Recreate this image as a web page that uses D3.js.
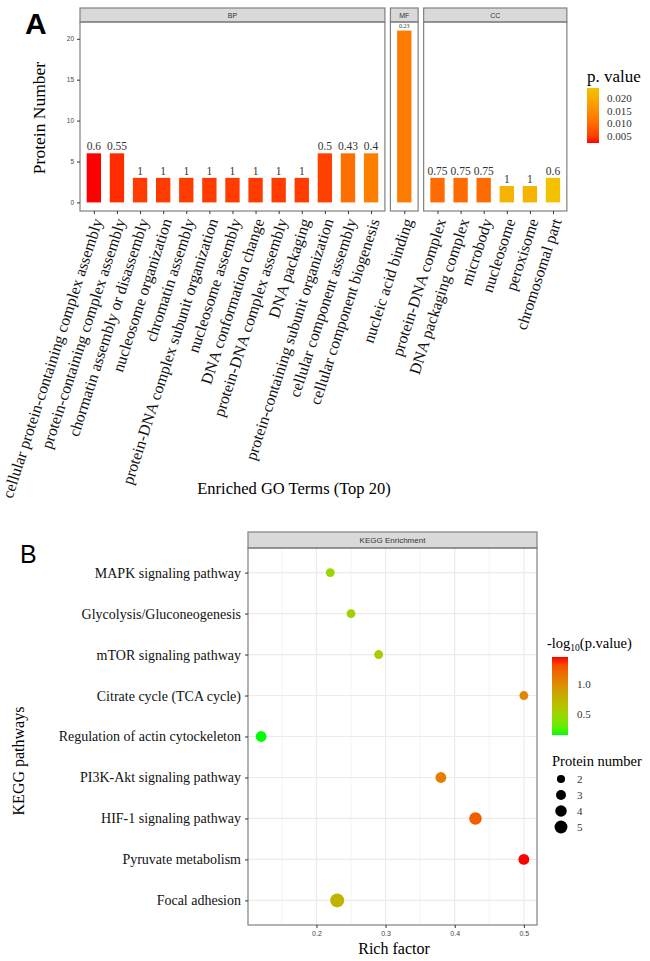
<!DOCTYPE html>
<html>
<head>
<meta charset="utf-8">
<script src="https://cdn.jsdelivr.net/npm/d3@7"></script>
<style>
  body { margin: 0; background: #fff; }
  svg { display: block; }
</style>
</head>
<body>
<svg width="650" height="961"></svg>
<script>

// ---- panel A data (GO enrichment) ----
var goTerms = [
    "cellular protein-containing complex assembly",
    "protein-containing complex assembly",
    "chormatin assembly or disassembly",
    "nucleosome organization",
    "chromatin assembly",
    "protein-DNA complex subunit organization",
    "nucleosome assembly",
    "DNA conformation change",
    "protein-DNA complex assembly",
    "DNA packaging",
    "protein-containing subunit organization",
    "cellular component assembly",
    "cellular component biogenesis",
    "nucleic acid binding",
    "protein-DNA complex",
    "DNA packaging complex",
    "microbody",
    "nucleosome",
    "peroxisome",
    "chromosomal part"
];
var goGroup = ["BP","BP","BP","BP","BP","BP","BP","BP","BP","BP","BP","BP","BP",
               "MF","CC","CC","CC","CC","CC","CC"];
var goCount = [6, 6, 3, 3, 3, 3, 3, 3, 3, 3, 6, 6, 6, 21, 3, 3, 3, 2, 2, 3];
var goPvalue = [0.0022, 0.0037, 0.0048, 0.0048, 0.0048, 0.0048, 0.0048, 0.0048, 0.0048, 0.0048,
                0.0053, 0.0105, 0.0127, 0.0122, 0.0100, 0.0100, 0.0100, 0.0214, 0.0214, 0.0240];
var goRatio = ["0.6","0.55","1","1","1","1","1","1","1","1","0.5","0.43","0.4",
               "0.23","0.75","0.75","0.75","1","1","0.6"];
var groups = ["BP", "MF", "CC"];
var yTicksA = [0, 5, 10, 15, 20];
var pTicks = [0.005, 0.010, 0.015, 0.020];

// ---- panel B data (KEGG) ----
var pathways = [
    "MAPK signaling pathway",
    "Glycolysis/Gluconeogenesis",
    "mTOR signaling pathway",
    "Citrate cycle (TCA cycle)",
    "Regulation of actin cytockeleton",
    "PI3K-Akt signaling pathway",
    "HIF-1 signaling pathway",
    "Pyruvate metabolism",
    "Focal adhesion"
];
var richFactor = [0.22, 0.25, 0.29, 0.50, 0.12, 0.38, 0.43, 0.50, 0.23];
var logP = [0.48, 0.52, 0.56, 1.06, 0.15, 1.10, 1.25, 1.45, 0.74];
var proteinNum = [2, 2, 2, 2, 3, 3, 4, 3, 5];
var richTicks = [0.2, 0.3, 0.4, 0.5];
var richMinor = [0.15, 0.25, 0.35, 0.45];
var logPTicks = [0.5, 1.0];
var sizeTicks = [2, 3, 4, 5];

var serif = "'Liberation Serif', 'Times New Roman', serif";
var sans = "'Liberation Sans', Arial, sans-serif";
var borderCol = "#808080";

var svg = d3.select("svg");
var defs = svg.append("defs");

// =================== PANEL A ===================
var unit = 23.1;       // width of one discrete step
var left0 = 80;
var gap = 5.5;
var stripTop = 8, stripBot = 22, panelBot = 211;

var y = d3.scaleLinear().domain([-1.05, 22.05]).range([panelBot, stripBot]);

var colorA = d3.scaleLinear()
    .domain([0.0022, 0.024])
    .range(["#ff0000", "#f2c200"])
    .interpolate(d3.interpolateLab);

svg.append("text")
    .attr("x", 25).attr("y", 34)
    .style("font-family", sans).style("font-size", "30px").style("font-weight", "bold")
    .text("A");

var cursor = left0;
groups.forEach(function(grp) {
    var idx = d3.range(goTerms.length).filter(function(i) { return goGroup[i] === grp; });
    var w = unit * (idx.length - 1 + 1.2);
    var x = d3.scalePoint()
        .domain(idx.map(function(i) { return goTerms[i]; }))
        .range([cursor, cursor + w])
        .padding(0.6);

    var g = svg.append("g");

    // strip
    g.append("rect")
        .attr("x", cursor).attr("y", stripTop)
        .attr("width", w).attr("height", stripBot - stripTop)
        .attr("fill", "#d9d9d9").attr("stroke", borderCol).attr("stroke-width", 1.2);
    g.append("text")
        .attr("x", cursor + w / 2).attr("y", (stripTop + stripBot) / 2 + 2.5)
        .attr("text-anchor", "middle")
        .style("font-family", sans).style("font-size", "7px").style("fill", "#333")
        .text(grp);

    // bars
    var bw = unit * 0.62;
    g.selectAll(".bar")
        .data(idx)
        .enter().append("rect")
        .attr("x", function(i) { return x(goTerms[i]) - bw / 2; })
        .attr("y", function(i) { return y(goCount[i]); })
        .attr("width", bw)
        .attr("height", function(i) { return y(0) - y(goCount[i]); })
        .attr("fill", function(i) { return colorA(goPvalue[i]); });

    // value labels above bars
    g.selectAll(".lab")
        .data(idx)
        .enter().append("text")
        .attr("x", function(i) { return x(goTerms[i]); })
        .attr("y", function(i) { return y(goCount[i]) - 3; })
        .attr("text-anchor", "middle")
        .style("font-family", serif)
        .style("font-size", function(i) { return grp === "MF" ? "6px" : "11.5px"; })
        .style("fill", "#333")
        .text(function(i) { return goRatio[i]; });

    // panel border
    g.append("rect")
        .attr("x", cursor).attr("y", stripBot)
        .attr("width", w).attr("height", panelBot - stripBot)
        .attr("fill", "none").attr("stroke", borderCol).attr("stroke-width", 1.2);

    // x axis ticks and rotated labels
    var xa = g.append("g").attr("transform", "translate(0," + panelBot + ")")
        .call(d3.axisBottom(x).tickSize(3).tickSizeOuter(0));
    xa.select(".domain").remove();
    xa.selectAll("line").attr("stroke", "#333");
    xa.selectAll("text")
        .attr("x", 0).attr("y", 0).attr("dy", "0.35em")
        .attr("transform", "translate(3,8) rotate(-72)")
        .style("text-anchor", "end")
        .style("font-family", serif).style("font-size", "16px").style("fill", "#111");

    cursor += w + gap;
});

// y axis for panel A
var ya = svg.append("g").attr("transform", "translate(" + left0 + ",0)")
    .call(d3.axisLeft(y).tickValues(yTicksA).tickSize(3));
ya.select(".domain").remove();
ya.selectAll("line").attr("stroke", "#333");
ya.selectAll("text")
    .style("font-family", sans).style("font-size", "6.5px").style("fill", "#444");

svg.append("text")
    .attr("transform", "translate(45,118) rotate(-90)")
    .attr("text-anchor", "middle")
    .style("font-family", serif).style("font-size", "17.5px")
    .text("Protein Number");

svg.append("text")
    .attr("x", 294).attr("y", 494)
    .attr("text-anchor", "middle")
    .style("font-family", serif).style("font-size", "16.5px")
    .text("Enriched GO Terms (Top 20)");

// legend A
var legA = svg.append("g");
legA.append("text")
    .attr("x", 587).attr("y", 82)
    .style("font-family", serif).style("font-size", "17px")
    .text("p. value");
var ly = d3.scaleLinear().domain(colorA.domain()).range([143, 88]);
var gradA = defs.append("linearGradient").attr("id", "gradA")
    .attr("x1", 0).attr("y1", 1).attr("x2", 0).attr("y2", 0);
d3.range(0, 1.0001, 0.1).forEach(function(t) {
    var v = colorA.domain()[0] + t * (colorA.domain()[1] - colorA.domain()[0]);
    gradA.append("stop").attr("offset", t).attr("stop-color", colorA(v));
});
legA.append("rect")
    .attr("x", 587).attr("y", 88).attr("width", 12).attr("height", 55)
    .attr("fill", "url(#gradA)");
legA.selectAll(".tk")
    .data(pTicks)
    .enter().append("text")
    .attr("x", 607).attr("y", function(d) { return ly(d) + 4; })
    .style("font-family", serif).style("font-size", "11px").style("fill", "#333")
    .text(function(d) { return d3.format(".3f")(d); });

// =================== PANEL B ===================
var bLeft = 248, bRight = 537, bStripTop = 532, bTop = 548, bBot = 925;

var xB = d3.scaleLinear().domain([0.101, 0.519]).range([bLeft, bRight]);
var yB = d3.scalePoint().domain(pathways).range([bTop, bBot]).padding(0.6);
var colorB = d3.scaleLinear()
    .domain([0.15, 1.45])
    .range(["#00ff00", "#ff0000"])
    .interpolate(d3.interpolateLab);
var rB = d3.scaleSqrt().domain([0, 5]).range([0, 7]);

svg.append("text")
    .attr("x", 20).attr("y", 563)
    .style("font-family", sans).style("font-size", "25px")
    .text("B");

var gB = svg.append("g");

// grid
gB.selectAll(".minor")
    .data(richMinor)
    .enter().append("line")
    .attr("x1", function(d) { return xB(d); }).attr("x2", function(d) { return xB(d); })
    .attr("y1", bTop).attr("y2", bBot)
    .attr("stroke", "#f0f0f0").attr("stroke-width", 0.8);
gB.selectAll(".major")
    .data(richTicks)
    .enter().append("line")
    .attr("x1", function(d) { return xB(d); }).attr("x2", function(d) { return xB(d); })
    .attr("y1", bTop).attr("y2", bBot)
    .attr("stroke", "#ebebeb").attr("stroke-width", 1.2);
gB.selectAll(".hgrid")
    .data(pathways)
    .enter().append("line")
    .attr("x1", bLeft).attr("x2", bRight)
    .attr("y1", function(d) { return yB(d); }).attr("y2", function(d) { return yB(d); })
    .attr("stroke", "#ebebeb").attr("stroke-width", 1.2);

// points
gB.selectAll(".dot")
    .data(d3.range(pathways.length))
    .enter().append("circle")
    .attr("cx", function(i) { return xB(richFactor[i]); })
    .attr("cy", function(i) { return yB(pathways[i]); })
    .attr("r", function(i) { return rB(proteinNum[i]); })
    .attr("fill", function(i) { return colorB(logP[i]); });

// strip + border
gB.append("rect")
    .attr("x", bLeft).attr("y", bStripTop)
    .attr("width", bRight - bLeft).attr("height", bTop - bStripTop)
    .attr("fill", "#d9d9d9").attr("stroke", borderCol).attr("stroke-width", 1.2);
gB.append("text")
    .attr("x", (bLeft + bRight) / 2).attr("y", (bStripTop + bTop) / 2 + 3)
    .attr("text-anchor", "middle")
    .style("font-family", sans).style("font-size", "8px").style("fill", "#333")
    .text("KEGG Enrichment");
gB.append("rect")
    .attr("x", bLeft).attr("y", bTop)
    .attr("width", bRight - bLeft).attr("height", bBot - bTop)
    .attr("fill", "none").attr("stroke", borderCol).attr("stroke-width", 1.2);

// axes
var xaB = gB.append("g").attr("transform", "translate(0," + bBot + ")")
    .call(d3.axisBottom(xB).tickValues(richTicks).tickSize(3).tickFormat(d3.format(".1f")));
xaB.select(".domain").remove();
xaB.selectAll("line").attr("stroke", "#333");
xaB.selectAll("text")
    .style("font-family", sans).style("font-size", "7px").style("fill", "#444");

var yaB = gB.append("g").attr("transform", "translate(" + bLeft + ",0)")
    .call(d3.axisLeft(yB).tickSize(3));
yaB.select(".domain").remove();
yaB.selectAll("line").attr("stroke", "#333");
yaB.selectAll("text")
    .attr("x", -7)
    .style("font-family", serif).style("font-size", "14px").style("fill", "#111");

svg.append("text")
    .attr("x", 394).attr("y", 954)
    .attr("text-anchor", "middle")
    .style("font-family", serif).style("font-size", "16px")
    .text("Rich factor");

svg.append("text")
    .attr("transform", "translate(24,761) rotate(-90)")
    .attr("text-anchor", "middle")
    .style("font-family", serif).style("font-size", "16px")
    .text("KEGG pathways");

// legend B: colour
var legB = svg.append("g");
var ttl = legB.append("text")
    .attr("x", 547).attr("y", 648)
    .style("font-family", serif).style("font-size", "14.5px");
ttl.append("tspan").text("-log");
ttl.append("tspan").attr("dy", 3).style("font-size", "9.5px").text("10");
ttl.append("tspan").attr("dy", -3).text("(p.value)");

var gradB = defs.append("linearGradient").attr("id", "gradB")
    .attr("x1", 0).attr("y1", 1).attr("x2", 0).attr("y2", 0);
d3.range(0, 1.0001, 0.1).forEach(function(t) {
    var v = colorB.domain()[0] + t * (colorB.domain()[1] - colorB.domain()[0]);
    gradB.append("stop").attr("offset", t).attr("stop-color", colorB(v));
});
var lyB = d3.scaleLinear().domain(colorB.domain()).range([735, 657]);
legB.append("rect")
    .attr("x", 552).attr("y", 657).attr("width", 16).attr("height", 78)
    .attr("fill", "url(#gradB)");
legB.selectAll(".tk")
    .data(logPTicks)
    .enter().append("text")
    .attr("x", 577).attr("y", function(d) { return lyB(d) + 4; })
    .style("font-family", serif).style("font-size", "11px").style("fill", "#333")
    .text(function(d) { return d3.format(".1f")(d); });

// legend B: size
legB.append("text")
    .attr("x", 552).attr("y", 766)
    .style("font-family", serif).style("font-size", "14.5px")
    .text("Protein number");
var sizeY = d3.scalePoint().domain(sizeTicks).range([779, 827]);
legB.selectAll(".sz")
    .data(sizeTicks)
    .enter().append("circle")
    .attr("cx", 561).attr("cy", function(d) { return sizeY(d); })
    .attr("r", function(d) { return rB(d) * 0.92; })
    .attr("fill", "#000");
legB.selectAll(".szl")
    .data(sizeTicks)
    .enter().append("text")
    .attr("x", 577).attr("y", function(d) { return sizeY(d) + 4; })
    .style("font-family", serif).style("font-size", "11px").style("fill", "#333")
    .text(function(d) { return d; });

</script>
</body>
</html>
